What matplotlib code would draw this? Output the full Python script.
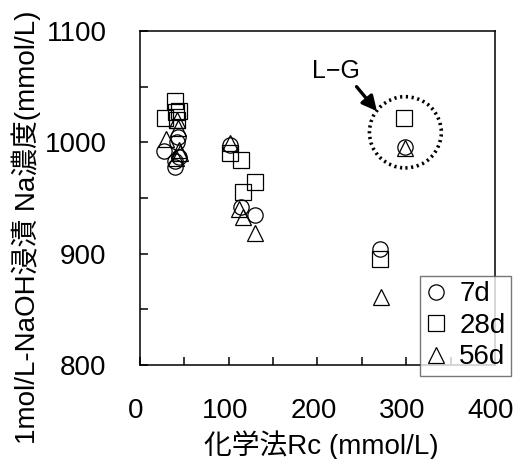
import matplotlib
matplotlib.use("Agg")
import matplotlib.pyplot as plt
import matplotlib.transforms as mtransforms
from matplotlib.patches import Ellipse
from matplotlib.ticker import MultipleLocator

plt.rcParams['font.family'] = ['Liberation Sans', 'Noto Sans CJK JP']

# 7d
x_7d = [27, 40, 40, 44, 43, 42, 101, 114, 130, 270, 299]
y_7d = [992, 978, 983, 987, 1005, 1000, 998, 942, 935, 904, 996]
# 28d
x_28d = [28, 39, 41, 44, 42, 101, 114, 116, 130, 270, 298]
y_28d = [1022, 1037, 1027, 1028, 1020, 990, 984, 955, 964, 895, 1022]
# 56d
x_56d = [29, 42, 43, 44, 41, 45, 101, 112, 116, 130, 271, 299]
y_56d = [1003, 1020, 1013, 993, 986, 990, 999, 940, 933, 919, 861, 995]

# L-G group (dotted ring)
lg_center = (299, 1009)
lg_size = (81, 64)

fig = plt.figure(figsize=(5.16, 4.59), dpi=100)
ax = fig.add_axes([0.2713, 0.2048, 0.6880, 0.7277])

ms = 11
kw = dict(linestyle='none', markerfacecolor='none', markeredgecolor='black',
          markeredgewidth=0.9, markersize=ms)
ax.plot(x_7d, y_7d, marker='o', label='7d', **kw)
ax.plot(x_28d, y_28d, marker='s', label='28d', **kw)
ax.plot(x_56d, y_56d, marker='^', label='56d', **dict(kw, markersize=ms + 1))

ring = Ellipse(lg_center, lg_size[0], lg_size[1], fill=False, edgecolor='black',
               linestyle=(0, (0.6, 1.0)), linewidth=2.6)
ax.add_patch(ring)
ax.text(221, 1064, 'L−G', fontsize=18, ha='center', va='center')
ax.annotate('', xy=(267, 1028), xytext=(244, 1050),
            arrowprops=dict(arrowstyle='-|>', color='black', lw=2.4,
                            mutation_scale=22, shrinkA=0, shrinkB=0))

ax.set_xlim(0, 400)
ax.set_ylim(800, 1100)
ax.xaxis.set_major_locator(MultipleLocator(100))
ax.xaxis.set_minor_locator(MultipleLocator(50))
ax.yaxis.set_major_locator(MultipleLocator(100))
ax.yaxis.set_minor_locator(MultipleLocator(50))
ax.tick_params(which='both', direction='in', length=6, width=1.1,
               labelsize=20, pad=24)
for s in ax.spines.values():
    s.set_linewidth(1.1)

shift = mtransforms.ScaledTranslation(-4 / 100, 0, fig.dpi_scale_trans)
for lbl in ax.get_xticklabels():
    lbl.set_transform(lbl.get_transform() + shift)

ax.set_xlabel('化学法Rc (mmol/L)', fontsize=20)
ax.set_ylabel('1mol/L-NaOH浸漬 Na濃度(mmol/L)', fontsize=20)
ax.xaxis.set_label_coords(0.51, -0.195)
ax.yaxis.set_label_coords(-0.28, 0.413)

leg = ax.legend(loc='lower right', bbox_to_anchor=(511 / 516, 1 - 376 / 459),
                bbox_transform=fig.transFigure, fontsize=20, frameon=True,
                fancybox=False, edgecolor='#555555', handlelength=0.7,
                handletextpad=0.5, borderpad=0.2, labelspacing=0.2,
                borderaxespad=0)
leg.get_frame().set_linewidth(1.0)

fig.savefig('out.png', dpi=100)
